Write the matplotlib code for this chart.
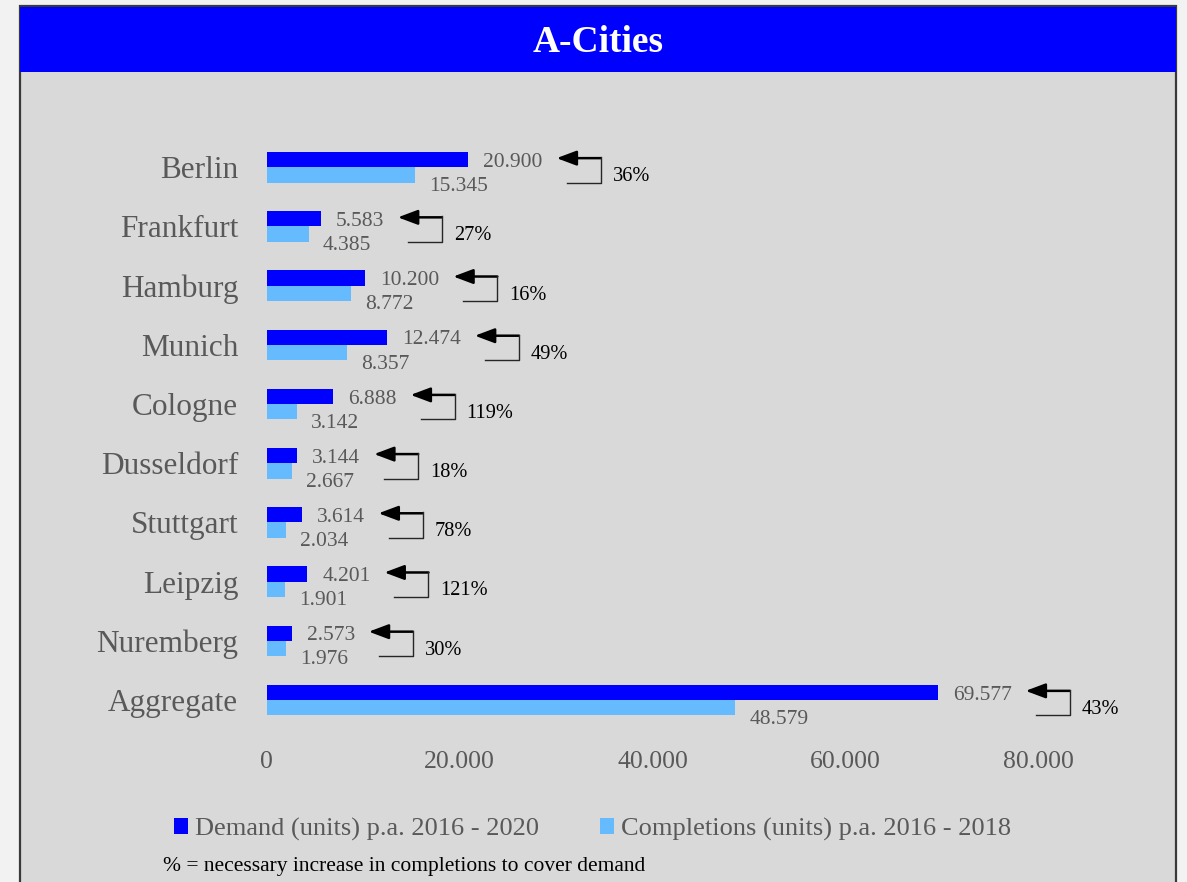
import matplotlib
matplotlib.use("Agg")
import matplotlib.pyplot as plt
from matplotlib.patches import Rectangle, FancyArrowPatch
from matplotlib.lines import Line2D
from matplotlib.transforms import IdentityTransform

plt.rcParams['font.family'] = ['Liberation Serif', 'DejaVu Serif']

# ---------------- data ----------------
cities = ["Berlin", "Frankfurt", "Hamburg", "Munich", "Cologne", "Dusseldorf",
          "Stuttgart", "Leipzig", "Nuremberg", "Aggregate"]
demand = [20900, 5583, 10200, 12474, 6888, 3144, 3614, 4201, 2573, 69577]
completions = [15345, 4385, 8772, 8357, 3142, 2667, 2034, 1901, 1976, 48579]
increase_pct = [36, 27, 16, 49, 119, 18, 78, 121, 30, 43]
xticks = [0, 20000, 40000, 60000, 80000]
title = "A-Cities"
legend_labels = ["Demand (units) p.a. 2016 - 2020", "Completions (units) p.a. 2016 - 2018"]
footnote = "% = necessary increase in completions to cover demand"

# ---------------- style ----------------
W, H = 1187, 882
DPI = 100
C_DEMAND = "#0000FF"
C_COMPL = "#66BBFF"
C_PANEL = "#D9D9D9"
C_OUTER = "#F2F2F2"
C_GRAY = "#595959"

def fx(px):
    return px / W

def fy(py):
    return 1 - py / H

fig = plt.figure(figsize=(W / DPI, H / DPI), dpi=DPI, facecolor=C_OUTER)

# panel and banner
fig.patches.append(Rectangle((fx(19.5), -0.05), fx(1176) - fx(19.5), fy(6) + 0.05,
                             transform=fig.transFigure, facecolor=C_PANEL,
                             edgecolor="#3a3a3a", linewidth=1.6, zorder=-10))
fig.patches.append(Rectangle((fx(19.5), fy(72)), fx(1176) - fx(19.5), fy(6.5) - fy(72),
                             transform=fig.transFigure, facecolor="#0000FF",
                             edgecolor="none", zorder=-9))
fig.text(fx(598), fy(43), title, color="white", fontsize=27, fontweight="bold",
         ha="center", va="center")

# axes
ax_left, ax_right = 266.7, 1038.3
ax_top, ax_bot = 137.7, 729.6
ax = fig.add_axes([fx(ax_left), fy(ax_bot), fx(ax_right) - fx(ax_left), (ax_bot - ax_top) / H])
ax.set_facecolor("none")
ax.set_zorder(1)
for s in ax.spines.values():
    s.set_visible(False)

n = len(cities)
pos = list(range(n))
bh = 0.2585
b1 = ax.barh([p - bh / 2 for p in pos], demand, height=bh, color=C_DEMAND, label=legend_labels[0])
b2 = ax.barh([p + bh / 2 for p in pos], completions, height=bh, color=C_COMPL, label=legend_labels[1])
ax.set_xlim(0, 80000)
ax.set_ylim(n - 0.5, -0.5)
ax.set_yticks(pos)
ax.set_yticklabels(cities, fontsize=22.5, color=C_GRAY)
ax.set_xticks(xticks)
ax.set_xticklabels([f"{v:,}".replace(",", ".") for v in xticks], fontsize=18.5, color=C_GRAY)
ax.tick_params(axis="both", length=0)
ax.tick_params(axis="y", pad=20.5)
ax.tick_params(axis="x", pad=15.5)

def fmt(v):
    return f"{v:,}".replace(",", ".")

dlabels = []
for p, v in zip(pos, demand):
    t = ax.annotate(fmt(v), xy=(v, p - bh / 2), xytext=(15, -7.2), textcoords="offset pixels",
                    ha="left", va="baseline", fontsize=15.5, color=C_GRAY, annotation_clip=False)
    dlabels.append(t)
for p, v in zip(pos, completions):
    ax.annotate(fmt(v), xy=(v, p + bh / 2), xytext=(14, -16), textcoords="offset pixels",
                ha="left", va="baseline", fontsize=15.5, color=C_GRAY, annotation_clip=False)

fig.canvas.draw()
renderer = fig.canvas.get_renderer()

for p, t, pct in zip(pos, dlabels, increase_pct):
    bb = t.get_window_extent(renderer)
    r = bb.x1
    yc = ax.transData.transform((0, p - bh / 2))[1] + 1.5
    arr = FancyArrowPatch((r + 58, yc), (r + 14, yc), transform=IdentityTransform(),
                          arrowstyle="-|>,head_length=1.2,head_width=0.45", mutation_scale=10,
                          color="black", linewidth=1.8, shrinkA=0, shrinkB=0)
    fig.patches.append(arr)
    fig.lines.append(Line2D([r + 58, r + 58, r + 24], [yc + 0.9, yc - 24.5, yc - 24.5],
                            transform=IdentityTransform(), color="#262626", linewidth=1.0))
    fig.text((r + 70) / W, (yc - 23) / H, f"{pct}%", fontsize=14.7, color="black",
             ha="left", va="baseline")

leg = fig.legend(handles=[b1, b2], labels=legend_labels, loc="center",
                 bbox_to_anchor=(fx(592.5), fy(829.5)), ncol=2, frameon=False,
                 fontsize=19, handlelength=0.55, handleheight=0.55, handletextpad=0.25,
                 columnspacing=2.3, borderpad=0, borderaxespad=0)
for txt in leg.get_texts():
    txt.set_color(C_GRAY)

fig.text(fx(163), fy(870.5), footnote, fontsize=15.5, color="black", ha="left", va="baseline")

fig.savefig("out.png", dpi=DPI, facecolor=C_OUTER)
